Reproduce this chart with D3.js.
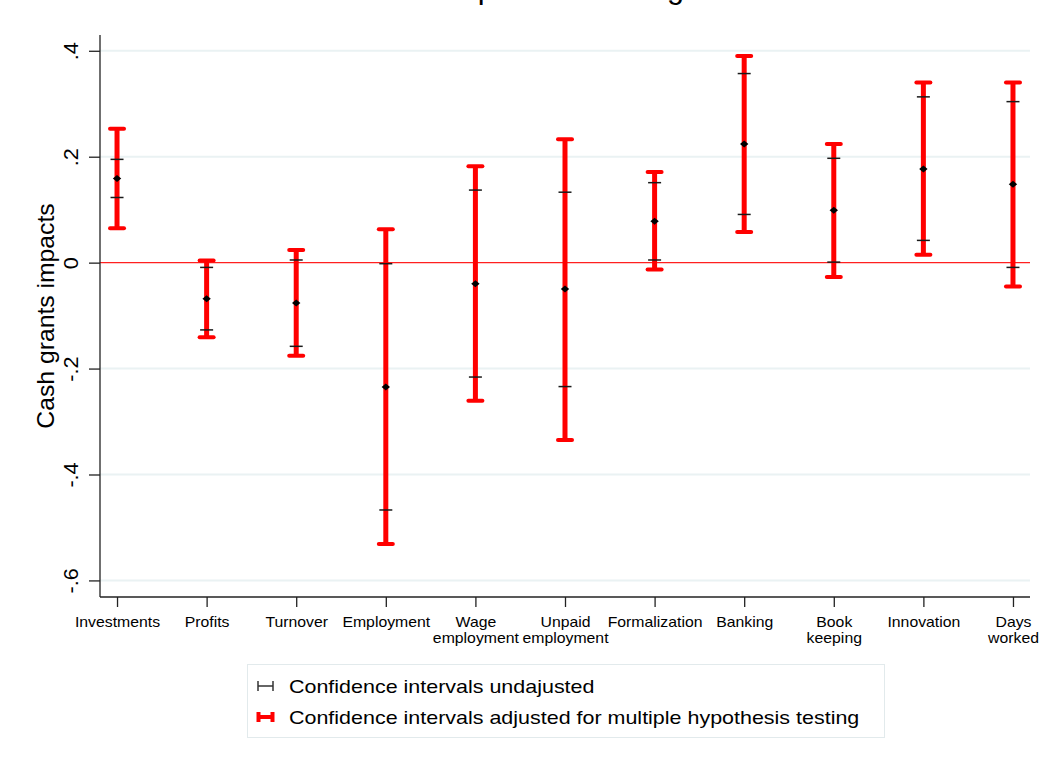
<!DOCTYPE html>
<html>
<head>
<meta charset="utf-8">
<script src="https://cdn.jsdelivr.net/npm/d3@7"></script>
<style>
  html, body { margin: 0; padding: 0; background: #ffffff; }
  svg { display: block; }
  text { font-family: "Liberation Sans", Arial, Helvetica, sans-serif; }
</style>
</head>
<body>
<script>
// ---- data ----
const categories = ["Investments", "Profits", "Turnover", "Employment", "Wage\nemployment",
  "Unpaid\nemployment", "Formalization", "Banking", "Book\nkeeping", "Innovation", "Days\nworked"];
const pointEstimates = [0.159, -0.068, -0.076, -0.235, -0.040, -0.050, 0.078, 0.224, 0.099, 0.177, 0.148];
const ciLowUnadjusted  = [0.123, -0.127, -0.158, -0.467, -0.216, -0.234, 0.005, 0.091, 0.001, 0.042, -0.009];
const ciHighUnadjusted = [0.195, -0.009, 0.005, -0.002, 0.137, 0.133, 0.151, 0.357, 0.197, 0.313, 0.304];
const ciLowAdjusted    = [0.065, -0.141, -0.176, -0.531, -0.261, -0.335, -0.013, 0.058, -0.027, 0.015, -0.045];
const ciHighAdjusted   = [0.253, 0.004, 0.024, 0.063, 0.182, 0.233, 0.171, 0.390, 0.224, 0.340, 0.340];
const yTicks = [-0.6, -0.4, -0.2, 0, 0.2, 0.4];
const yTickLabels = ["-.6", "-.4", "-.2", "0", ".2", ".4"];
const legendLabels = ["Confidence intervals undajusted", "Confidence intervals adjusted for multiple hypothesis testing"];
const yTitle = "Cash grants impacts";
const chartTitle = "Impacts of cash grants";

const rows = categories.map((c, i) => ({
  i: i + 1, name: c, est: pointEstimates[i],
  lo: ciLowUnadjusted[i], hi: ciHighUnadjusted[i],
  loA: ciLowAdjusted[i], hiA: ciHighAdjusted[i]
}));

// ---- layout ----
const W = 1043, H = 773;
const plot = { left: 100, right: 1030, top: 35, bottom: 597 };
const stretch = 1.13; // horizontal stretch of the source's text

const svg = d3.select("body").append("svg").attr("width", W).attr("height", H);

const x = d3.scaleLinear().domain([0.81, 11.19]).range([plot.left, plot.right]);
const y = d3.scaleLinear().domain([-0.6313, 0.4298]).range([plot.bottom, plot.top]);

// title (mostly cut off at the top, as in the source)
svg.append("text")
  .attr("x", 598).attr("y", -2)
  .attr("text-anchor", "middle")
  .attr("font-size", 30.7)
  .attr("fill", "#000")
  .text(chartTitle);

// gridlines
svg.append("g").selectAll("line").data(yTicks.filter(t => t !== 0)).join("line")
  .attr("x1", plot.left).attr("x2", plot.right)
  .attr("y1", d => y(d)).attr("y2", d => y(d))
  .attr("stroke", "#eaf2f3").attr("stroke-width", 2);

// zero line
svg.append("line")
  .attr("x1", plot.left).attr("x2", plot.right)
  .attr("y1", y(0)).attr("y2", y(0))
  .attr("stroke", "#ff2020").attr("stroke-width", 1.4);

// y axis
const yAxis = d3.axisLeft(y).tickValues(yTicks)
  .tickFormat((d, i) => yTickLabels[i]).tickSize(11).tickPadding(6);
const gy = svg.append("g").attr("transform", `translate(${plot.left},0)`).call(yAxis);
gy.select(".domain").attr("d", `M0,${plot.top}V${plot.bottom}`).attr("stroke", "#222").attr("stroke-width", 1.3);
gy.selectAll(".tick line").attr("stroke", "#222").attr("stroke-width", 1.3);
gy.selectAll(".tick text")
  .attr("font-size", 20).attr("fill", "#000")
  .attr("transform", "rotate(-90) scale(1.08,1)")
  .attr("x", 0).attr("y", -22)
  .attr("dy", "0")
  .attr("text-anchor", "middle");

// x axis
const xAxis = d3.axisBottom(x).tickValues(rows.map(r => r.i)).tickFormat("").tickSize(10);
const gx = svg.append("g").attr("transform", `translate(0,${plot.bottom})`).call(xAxis);
gx.select(".domain").attr("d", `M${plot.left},0H${plot.right}`).attr("stroke", "#222").attr("stroke-width", 1.3);
gx.selectAll(".tick line").attr("stroke", "#222").attr("stroke-width", 1.3);
gx.selectAll(".tick").each(function(d, i) {
  const lines = categories[i].split("\n");
  const t = d3.select(this).append("text")
    .attr("transform", `scale(${stretch},1)`)
    .attr("text-anchor", "middle").attr("font-size", 14).attr("fill", "#000");
  lines.forEach((ln, k) => {
    t.append("tspan").attr("x", 0).attr("y", 30 + k * 16).text(ln);
  });
});

// y title
svg.append("text")
  .attr("transform", `translate(54,${(plot.top + plot.bottom) / 2}) rotate(-90) scale(1.076,1)`)
  .attr("text-anchor", "middle")
  .attr("font-size", 23).attr("fill", "#000")
  .text(yTitle);

// adjusted CIs (red)
const red = "#ff0000";
const capR = 7, capB = 6.5;
const gRed = svg.append("g");
gRed.selectAll("line.v").data(rows).join("line")
  .attr("x1", d => x(d.i)).attr("x2", d => x(d.i))
  .attr("y1", d => y(d.loA)).attr("y2", d => y(d.hiA))
  .attr("stroke", red).attr("stroke-width", 5);
["loA", "hiA"].forEach(k => {
  gRed.selectAll("line." + k).data(rows).join("line")
    .attr("x1", d => x(d.i) - capR).attr("x2", d => x(d.i) + capR)
    .attr("y1", d => y(d[k])).attr("y2", d => y(d[k]))
    .attr("stroke", red).attr("stroke-width", 4).attr("stroke-linecap", "round");
});

// unadjusted CIs (black caps)
const gBlk = svg.append("g");
["lo", "hi"].forEach(k => {
  gBlk.selectAll("line." + k).data(rows).join("line")
    .attr("x1", d => x(d.i) - capB).attr("x2", d => x(d.i) + capB)
    .attr("y1", d => y(d[k])).attr("y2", d => y(d[k]))
    .attr("stroke", "#1a1a1a").attr("stroke-width", 1.5);
});

// point estimates
svg.append("g").selectAll("path").data(rows).join("path")
  .attr("transform", d => `translate(${x(d.i)},${y(d.est)})`)
  .attr("d", "M-4.2,0L0,-3.5L4.2,0L0,3.5Z")
  .attr("fill", "#000");

// legend
const lg = svg.append("g");
lg.append("rect").attr("x", 247.5).attr("y", 664.5).attr("width", 637).attr("height", 73)
  .attr("fill", "#fff").attr("stroke", "#e2eaec").attr("stroke-width", 1);
const ly = [686, 717];
// black symbol
lg.append("line").attr("x1", 258).attr("x2", 273).attr("y1", ly[0]).attr("y2", ly[0]).attr("stroke", "#333").attr("stroke-width", 1.5);
lg.append("line").attr("x1", 258).attr("x2", 258).attr("y1", ly[0] - 5).attr("y2", ly[0] + 5).attr("stroke", "#333").attr("stroke-width", 1.5);
lg.append("line").attr("x1", 273).attr("x2", 273).attr("y1", ly[0] - 5).attr("y2", ly[0] + 5).attr("stroke", "#333").attr("stroke-width", 1.5);
// red symbol
lg.append("line").attr("x1", 258).attr("x2", 273).attr("y1", ly[1]).attr("y2", ly[1]).attr("stroke", red).attr("stroke-width", 4);
lg.append("line").attr("x1", 258.5).attr("x2", 258.5).attr("y1", ly[1] - 5).attr("y2", ly[1] + 5).attr("stroke", red).attr("stroke-width", 4);
lg.append("line").attr("x1", 272.5).attr("x2", 272.5).attr("y1", ly[1] - 5).attr("y2", ly[1] + 5).attr("stroke", red).attr("stroke-width", 4);
lg.selectAll("text").data(legendLabels).join("text")
  .attr("transform", (d, i) => `translate(289,${ly[i] + 7}) scale(${stretch},1)`)
  .attr("font-size", 19).attr("fill", "#000")
  .text(d => d);
</script>
</body>
</html>
